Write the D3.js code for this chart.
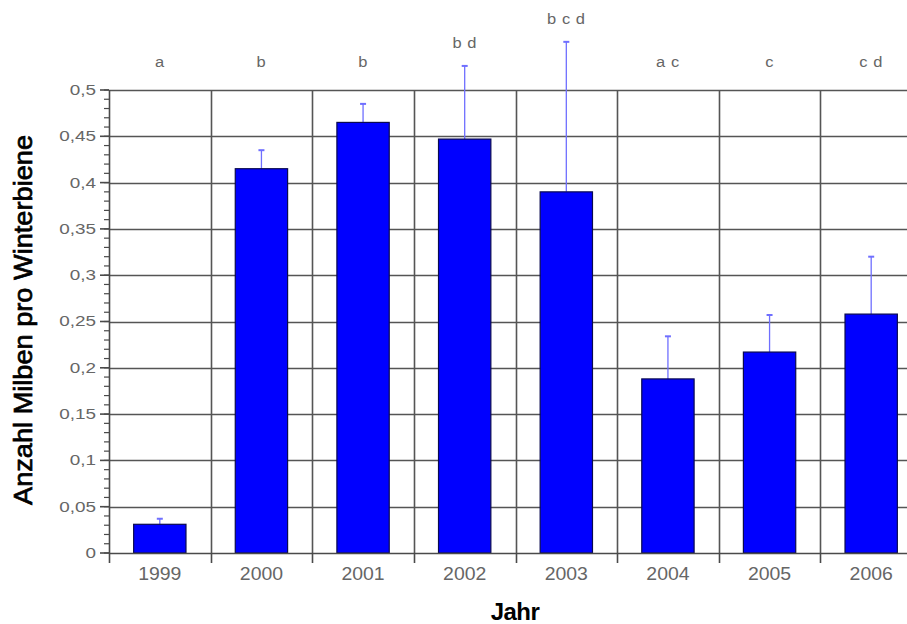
<!DOCTYPE html>
<html>
<head>
<meta charset="utf-8">
<script src="https://cdn.jsdelivr.net/npm/d3@7"></script>
<style>
  html, body { margin: 0; padding: 0; background: #ffffff; }
  svg { display: block; }
</style>
</head>
<body>
<svg id="chart" width="907" height="624"></svg>
<script>
// Varroa mites per winter bee, by year
const years = ["1999", "2000", "2001", "2002", "2003", "2004", "2005", "2006"];
const means = [0.031, 0.415, 0.465, 0.447, 0.390, 0.188, 0.217, 0.258];
const errors = [0.006, 0.020, 0.020, 0.079, 0.162, 0.046, 0.040, 0.062];
const groups = ["a", "b", "b", "b d", "b c d", "a c", "c", "c d"];
const yTicks = [0, 0.05, 0.1, 0.15, 0.2, 0.25, 0.3, 0.35, 0.4, 0.45, 0.5];

(function draw() {
  const svg = d3.select("#chart");
  const W = 907;
  const mLeft = 109, mBottom = 553, mTop = 90, mRight = 922;

  const x = d3.scaleBand().domain(years).range([mLeft, mRight]).paddingInner(0).paddingOuter(0);
  const y = d3.scaleLinear().domain([0, 0.5]).range([mBottom, mTop]);

  const fmt = v => (v === 0 ? "0" : d3.format("~g")(v).replace(".", ","));
  const font = "Liberation Sans, Arial, sans-serif";
  const grey = "#666";

  // horizontal gridlines
  svg.append("g")
    .selectAll("line")
    .data(yTicks.slice(1))
    .join("line")
    .attr("x1", mLeft).attr("x2", W)
    .attr("y1", d => Math.round(y(d)) + 0.5).attr("y2", d => Math.round(y(d)) + 0.5)
    .attr("stroke", "#555").attr("stroke-width", 1.6);

  // vertical gridlines at category boundaries
  const bounds = years.slice(1).map(c => x(c));
  svg.append("g")
    .selectAll("line")
    .data(bounds)
    .join("line")
    .attr("x1", d => Math.round(d) + 0.5).attr("x2", d => Math.round(d) + 0.5)
    .attr("y1", mTop).attr("y2", mBottom)
    .attr("stroke", "#555").attr("stroke-width", 1.6);

  // error bars (upper only)
  const eb = svg.append("g").attr("stroke", "#6f6fff").attr("stroke-width", 1.3);
  years.forEach((c, i) => {
    const cx = x(c) + x.bandwidth() / 2;
    eb.append("line").attr("x1", cx).attr("x2", cx)
      .attr("y1", y(means[i])).attr("y2", y(means[i] + errors[i]));
    eb.append("line").attr("x1", cx - 3).attr("x2", cx + 3)
      .attr("y1", y(means[i] + errors[i])).attr("y2", y(means[i] + errors[i]))
      .attr("stroke-width", 2);
  });

  // bars
  const barW = x.bandwidth() * 0.515;
  svg.append("g")
    .selectAll("rect")
    .data(years)
    .join("rect")
    .attr("x", d => x(d) + (x.bandwidth() - barW) / 2)
    .attr("width", barW)
    .attr("y", (d, i) => y(means[i]))
    .attr("height", (d, i) => mBottom - y(means[i]))
    .attr("fill", "#0000ff")
    .attr("stroke", "#0a0a50").attr("stroke-width", 1.2);

  // y axis with minor ticks
  const yAxis = svg.append("g").attr("transform", `translate(${mLeft},0)`);
  yAxis.append("line").attr("x1", 0.5).attr("x2", 0.5).attr("y1", mTop).attr("y2", mBottom + 10)
    .attr("stroke", "#4a4a4a").attr("stroke-width", 1.6);
  const minor = d3.range(0, 0.5001, 0.01);
  yAxis.selectAll("line.minor").data(minor).join("line").attr("class", "minor")
    .attr("x1", -5).attr("x2", 0).attr("y1", d => y(d)).attr("y2", d => y(d))
    .attr("stroke", "#4a4a4a").attr("stroke-width", 1.2);
  yAxis.selectAll("line.major").data(yTicks).join("line").attr("class", "major")
    .attr("x1", -9).attr("x2", 0).attr("y1", d => y(d)).attr("y2", d => y(d))
    .attr("stroke", "#4a4a4a").attr("stroke-width", 1.6);
  yAxis.selectAll("text").data(yTicks).join("text")
    .attr("transform", d => `translate(-13,${y(d)}) scale(1.35,1)`)
    .attr("dy", "0.35em")
    .attr("text-anchor", "end")
    .attr("font-family", font).attr("font-size", 14)
    .attr("fill", grey).text(fmt);

  // x axis
  svg.append("line").attr("x1", mLeft).attr("x2", W).attr("y1", mBottom + 0.5).attr("y2", mBottom + 0.5)
    .attr("stroke", "#4a4a4a").attr("stroke-width", 1.6);
  svg.append("g").selectAll("line").data(bounds).join("line")
    .attr("x1", d => Math.round(d) + 0.5).attr("x2", d => Math.round(d) + 0.5)
    .attr("y1", mBottom).attr("y2", mBottom + 10)
    .attr("stroke", "#4a4a4a").attr("stroke-width", 1.6);
  svg.append("g").selectAll("text").data(years).join("text")
    .attr("transform", d => `translate(${x(d) + x.bandwidth() / 2},${mBottom + 27}) scale(1.08,1)`)
    .attr("text-anchor", "middle")
    .attr("font-family", font).attr("font-size", 18)
    .attr("fill", grey).text(d => d);

  // significance letters
  svg.append("g").selectAll("text").data(years).join("text")
    .attr("transform", (d, i) =>
      `translate(${x(d) + x.bandwidth() / 2},${Math.min(62, y(means[i] + errors[i]) - 23.5)}) scale(1.1,1)`)
    .attr("dy", "0.35em")
    .attr("text-anchor", "middle")
    .attr("font-family", font).attr("font-size", 15)
    .attr("letter-spacing", 0.5)
    .attr("fill", grey).text((d, i) => groups[i]);

  // axis titles
  svg.append("text")
    .attr("transform", `translate(32,${(135 + 505) / 2}) rotate(-90) scale(1,1.15)`)
    .attr("text-anchor", "middle")
    .attr("font-family", font).attr("font-size", 22)
    .attr("textLength", 370).attr("lengthAdjust", "spacingAndGlyphs")
    .attr("fill", "#000").attr("stroke", "#000").attr("stroke-width", 0.6)
    .text("Anzahl Milben pro Winterbiene");

  svg.append("text")
    .attr("x", 515).attr("y", 620)
    .attr("text-anchor", "middle")
    .attr("font-family", font).attr("font-size", 24)
    .attr("font-weight", "bold").attr("letter-spacing", -0.5)
    .attr("fill", "#000").text("Jahr");
})();
</script>
</body>
</html>
